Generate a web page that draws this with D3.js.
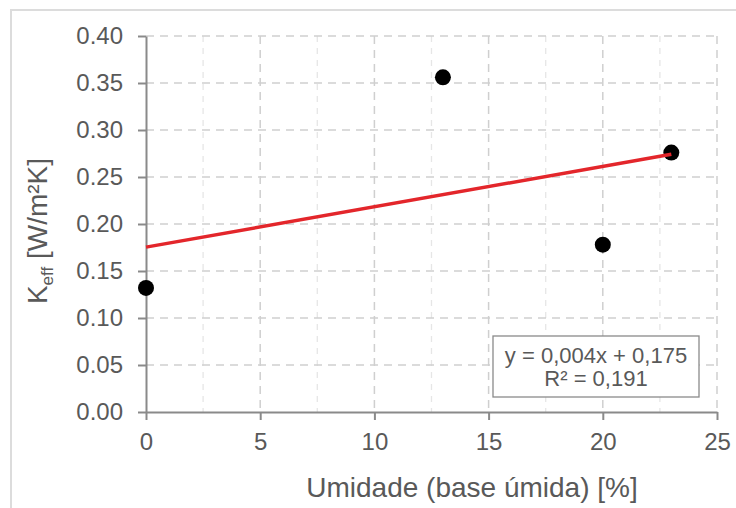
<!DOCTYPE html>
<html>
<head>
<meta charset="utf-8">
<script src="https://cdn.jsdelivr.net/npm/d3@7"></script>
<style>
  html, body { margin: 0; padding: 0; background: #fff; }
  svg { display: block; font-family: "Liberation Sans", Arial, sans-serif; }
</style>
</head>
<body>
<svg id="chart" width="736" height="508"></svg>
<script>
// ---- data ----
const moisture = [0, 13, 20, 23];                 // Umidade (base úmida) [%]
const keff = [0.132, 0.356, 0.178, 0.276];        // K_eff [W/m²K]
const xTicks = [0, 5, 10, 15, 20, 25];
const xMinorTicks = [2.5, 7.5, 12.5, 17.5, 22.5];
const yTicks = [0, 0.05, 0.10, 0.15, 0.20, 0.25, 0.30, 0.35, 0.40];
const equationLines = ["y = 0,004x + 0,175", "R² = 0,191"];
const xTitle = "Umidade (base úmida) [%]";

// ---- layout ----
const W = 736, H = 508;
const plot = { left: 146, right: 717, top: 36, bottom: 412 };
const svg = d3.select("#chart");

const x = d3.scaleLinear().domain([0, 25]).range([plot.left, plot.right]);
const y = d3.scaleLinear().domain([0, 0.40]).range([plot.bottom, plot.top]);

// outer chart frame
svg.append("rect")
  .attr("x", 11).attr("y", 10).attr("width", W).attr("height", H)
  .attr("fill", "none").attr("stroke", "#dcdcdc").attr("stroke-width", 2);

// minor vertical gridlines
svg.append("g").selectAll("line").data(xMinorTicks).join("line")
  .attr("x1", d => x(d)).attr("x2", d => x(d))
  .attr("y1", plot.top).attr("y2", plot.bottom)
  .attr("stroke", "#e6e6e6").attr("stroke-width", 1.3).attr("stroke-dasharray", "6,6");

// major vertical gridlines
svg.append("g").selectAll("line").data(xTicks.filter(d => d > 0)).join("line")
  .attr("x1", d => x(d)).attr("x2", d => x(d))
  .attr("y1", plot.top).attr("y2", plot.bottom)
  .attr("stroke", "#cfcfcf").attr("stroke-width", 1.5).attr("stroke-dasharray", "8,6");

// horizontal gridlines
svg.append("g").selectAll("line").data(yTicks.filter(d => d > 0)).join("line")
  .attr("x1", plot.left).attr("x2", plot.right)
  .attr("y1", d => y(d)).attr("y2", d => y(d))
  .attr("stroke", "#cfcfcf").attr("stroke-width", 1.5).attr("stroke-dasharray", "8,6");

// axes
const axisColor = "#8a8a8a", textColor = "#595959";
const gx = svg.append("g").attr("transform", `translate(0,${plot.bottom})`)
  .call(d3.axisBottom(x).tickValues(xTicks).tickFormat(d3.format("d")).tickSize(8).tickPadding(13).tickSizeOuter(0));
const gy = svg.append("g").attr("transform", `translate(${plot.left},0)`)
  .call(d3.axisLeft(y).tickValues(yTicks).tickFormat(d3.format(".2f")).tickSize(8).tickPadding(15).tickSizeOuter(0));
[gx, gy].forEach(g => {
  g.select(".domain").attr("stroke", axisColor).attr("stroke-width", 2);
  g.selectAll(".tick line").attr("stroke", axisColor).attr("stroke-width", 2);
  g.selectAll(".tick text").attr("fill", textColor).attr("font-size", 24)
    .attr("font-family", "'Liberation Sans', Arial, sans-serif");
});

// points
svg.append("g").selectAll("circle").data(moisture.map((m, i) => [m, keff[i]])).join("circle")
  .attr("cx", d => x(d[0])).attr("cy", d => y(d[1])).attr("r", 8).attr("fill", "#000");

// linear trendline (least squares on the data)
const n = moisture.length;
const mx = d3.mean(moisture), my = d3.mean(keff);
const sxy = d3.sum(moisture, (m, i) => (m - mx) * (keff[i] - my));
const sxx = d3.sum(moisture, m => (m - mx) ** 2);
const slope = sxy / sxx, intercept = my - slope * mx;
const x0 = d3.min(moisture), x1 = d3.max(moisture);
svg.append("line")
  .attr("x1", x(x0)).attr("y1", y(intercept + slope * x0))
  .attr("x2", x(x1)).attr("y2", y(intercept + slope * x1))
  .attr("stroke", "#e3262b").attr("stroke-width", 3.5);

// equation box
const box = svg.append("g");
box.append("rect").attr("x", 493).attr("y", 336).attr("width", 206).attr("height", 61)
  .attr("fill", "#fff").attr("stroke", "#8a8a8a").attr("stroke-width", 1.3);
box.selectAll("text").data(equationLines).join("text")
  .attr("x", 596).attr("y", (d, i) => 363 + i * 23)
  .attr("text-anchor", "middle").attr("font-size", 22).attr("fill", textColor)
  .text(d => d);

// x axis title
svg.append("text").attr("x", 472).attr("y", 497).attr("text-anchor", "middle")
  .attr("font-size", 28).attr("fill", textColor).text(xTitle);

// y axis title (rotated)
const yt = svg.append("text").attr("transform", "translate(47,231) rotate(-90)")
  .attr("text-anchor", "middle").attr("font-size", 28).attr("fill", textColor);
yt.append("tspan").text("K");
yt.append("tspan").attr("font-size", 17).attr("dy", 6).text("eff");
yt.append("tspan").attr("dy", -6).text(" [W/m²K]");
</script>
</body>
</html>
